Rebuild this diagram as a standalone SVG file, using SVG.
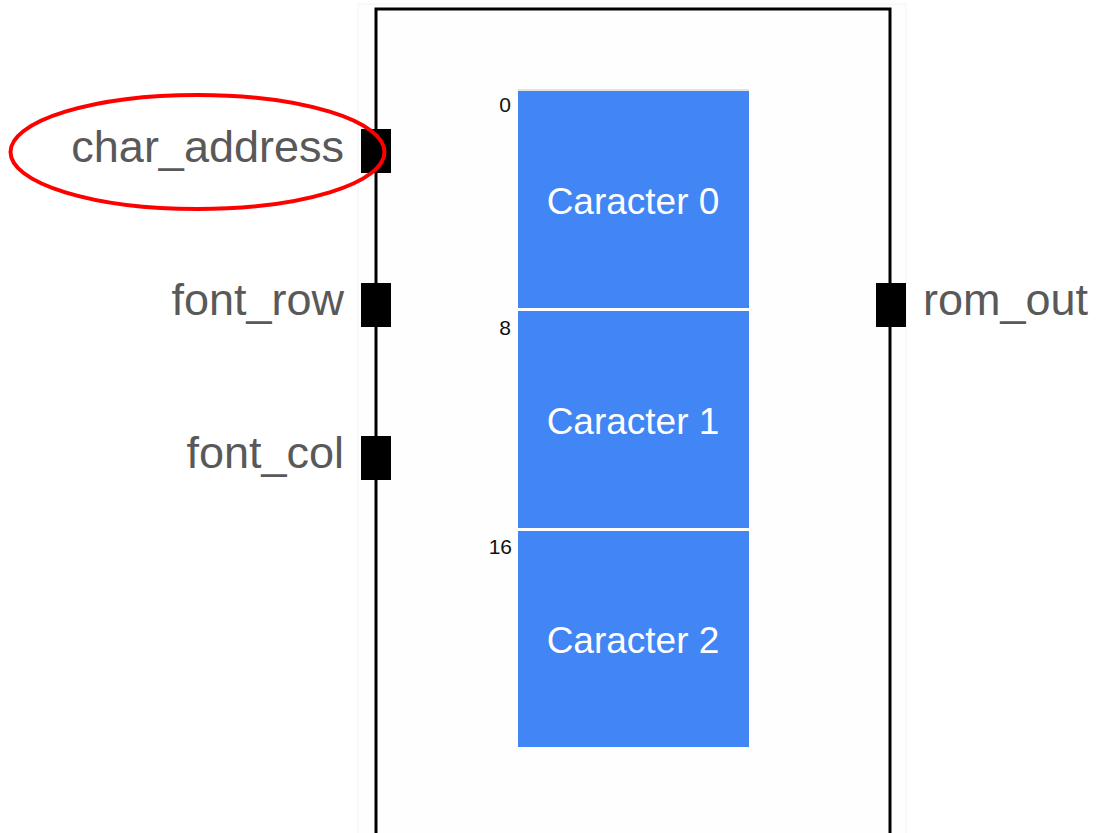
<svg xmlns="http://www.w3.org/2000/svg" width="1098" height="833" viewBox="0 0 1098 833">
<style>
.lbl{font-family:"Liberation Sans",Arial,sans-serif;font-size:45px;fill:#595959}
.cap{font-family:"Liberation Sans",Arial,sans-serif;font-size:37px;fill:#ffffff;text-anchor:middle}
.addr{font-family:"Liberation Sans",Arial,sans-serif;font-size:21px;fill:#111111;text-anchor:end}
.blk{fill:#4285f4}
.port{fill:#000000}
.wire{stroke:#000000;stroke-width:3;fill:none}
</style>
<rect width="1098" height="833" fill="#ffffff"/>
<g id="module">
<rect x="358" y="4" width="548" height="835" fill="#fefefe" stroke="#f4f4f4" stroke-width="1"/>
<path class="wire" d="M376,833 V9 H890 V833"/>
</g>
<g id="rom">
<line x1="518" y1="90" x2="749" y2="90" stroke="#c8c8c8" stroke-width="1"/>
<g id="char0"><rect class="blk" x="518" y="91" width="231" height="217"/><text class="cap" x="633" y="214">Caracter 0</text><text class="addr" x="511" y="112">0</text></g>
<g id="char1"><rect class="blk" x="518" y="311" width="231" height="217"/><text class="cap" x="633" y="434">Caracter 1</text><text class="addr" x="511" y="335">8</text></g>
<g id="char2"><rect class="blk" x="518" y="531" width="231" height="216"/><text class="cap" x="633" y="653">Caracter 2</text><text class="addr" x="512" y="554">16</text></g>
</g>
<g id="port_char_address"><rect class="port" x="361" y="129" width="30" height="44"/><text class="lbl" x="344" y="162" text-anchor="end">char_address</text></g>
<g id="port_font_row"><rect class="port" x="361" y="283" width="30" height="44"/><text class="lbl" x="344" y="315" text-anchor="end">font_row</text></g>
<g id="port_font_col"><rect class="port" x="361" y="436" width="30" height="44"/><text class="lbl" x="344" y="468" text-anchor="end">font_col</text></g>
<g id="port_rom_out"><rect class="port" x="876" y="283" width="30" height="44"/><text class="lbl" x="923" y="315">rom_out</text></g>
<g id="highlight"><ellipse cx="197.5" cy="152" rx="187" ry="57" fill="none" stroke="#ff0000" stroke-width="4"/></g>
</svg>
